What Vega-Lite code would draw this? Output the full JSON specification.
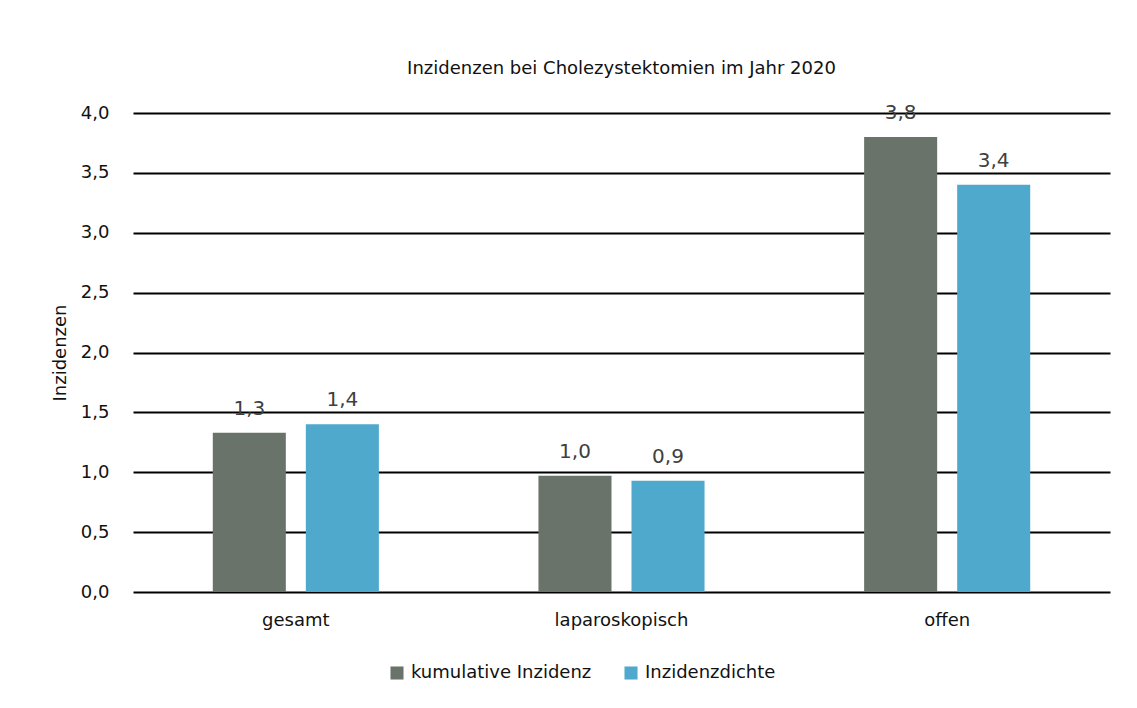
{
  "$schema": "https://vega.github.io/schema/vega-lite/v6.json",
  "autosize": "none",
  "width": 977,
  "height": 479,
  "padding": {"left": 133, "top": 113, "right": 27, "bottom": 116},
  "config": {
    "locale": {"number": {"decimal": ",", "thousands": ".", "grouping": [3], "currency": ["", " €"]}},
    "view": {"stroke": null},
    "font": "DejaVu Sans"
  },
  "title": {
    "text": "Inzidenzen bei Cholezystektomien im Jahr 2020",
    "fontSize": 18,
    "fontWeight": "normal",
    "color": "#111111",
    "offset": 25,
    "anchor": "middle"
  },
  "data": {
    "values": [
      {"Kategorie": "gesamt", "Serie": "kumulative Inzidenz", "Wert": 1.33},
      {"Kategorie": "gesamt", "Serie": "Inzidenzdichte", "Wert": 1.4},
      {"Kategorie": "laparoskopisch", "Serie": "kumulative Inzidenz", "Wert": 0.97},
      {"Kategorie": "laparoskopisch", "Serie": "Inzidenzdichte", "Wert": 0.93},
      {"Kategorie": "offen", "Serie": "kumulative Inzidenz", "Wert": 3.8},
      {"Kategorie": "offen", "Serie": "Inzidenzdichte", "Wert": 3.4}
    ]
  },
  "encoding": {
    "x": {
      "field": "Kategorie",
      "type": "nominal",
      "sort": ["gesamt", "laparoskopisch", "offen"],
      "scale": {"paddingInner": 0.49, "paddingOuter": 0.245},
      "axis": {
        "title": null,
        "labelAngle": 0,
        "domain": false,
        "ticks": false,
        "labelPadding": 19,
        "labelFontSize": 18,
        "labelColor": "#111111"
      }
    },
    "xOffset": {
      "field": "Serie",
      "type": "nominal",
      "sort": ["kumulative Inzidenz", "Inzidenzdichte"],
      "scale": {"paddingInner": 0.215, "paddingOuter": 0}
    },
    "y": {
      "field": "Wert",
      "type": "quantitative",
      "scale": {"domain": [0, 4]},
      "axis": {
        "title": "Inzidenzen",
        "titleFontSize": 18,
        "titleFontWeight": "normal",
        "titleColor": "#111111",
        "titlePadding": 11,
        "values": [0, 0.5, 1, 1.5, 2, 2.5, 3, 3.5, 4],
        "format": ".1f",
        "domain": false,
        "ticks": false,
        "labelPadding": 24,
        "labelFontSize": 18,
        "labelColor": "#111111",
        "grid": true,
        "gridColor": "#000000",
        "gridWidth": 2,
        "gridOpacity": 1
      }
    }
  },
  "layer": [
    {
      "mark": {"type": "bar"},
      "encoding": {
        "color": {
          "field": "Serie",
          "type": "nominal",
          "sort": ["kumulative Inzidenz", "Inzidenzdichte"],
          "scale": {"range": ["#6a7369", "#4fa9cc"]},
          "legend": {
            "title": null,
            "orient": "none",
            "legendX": 255,
            "legendY": 551,
            "direction": "horizontal",
            "symbolType": "square",
            "symbolSize": 170,
            "symbolStrokeWidth": 0,
            "symbolOpacity": 1,
            "labelFontSize": 18,
            "labelLimit": 400,
            "labelColor": "#111111",
            "labelOffset": 5,
            "columnPadding": 30
          }
        }
      }
    },
    {
      "mark": {"type": "text", "baseline": "alphabetic", "dy": -18, "fontSize": 20, "color": "#404040"},
      "encoding": {
        "text": {"field": "Wert", "type": "quantitative", "format": ".1f"}
      }
    }
  ]
}
